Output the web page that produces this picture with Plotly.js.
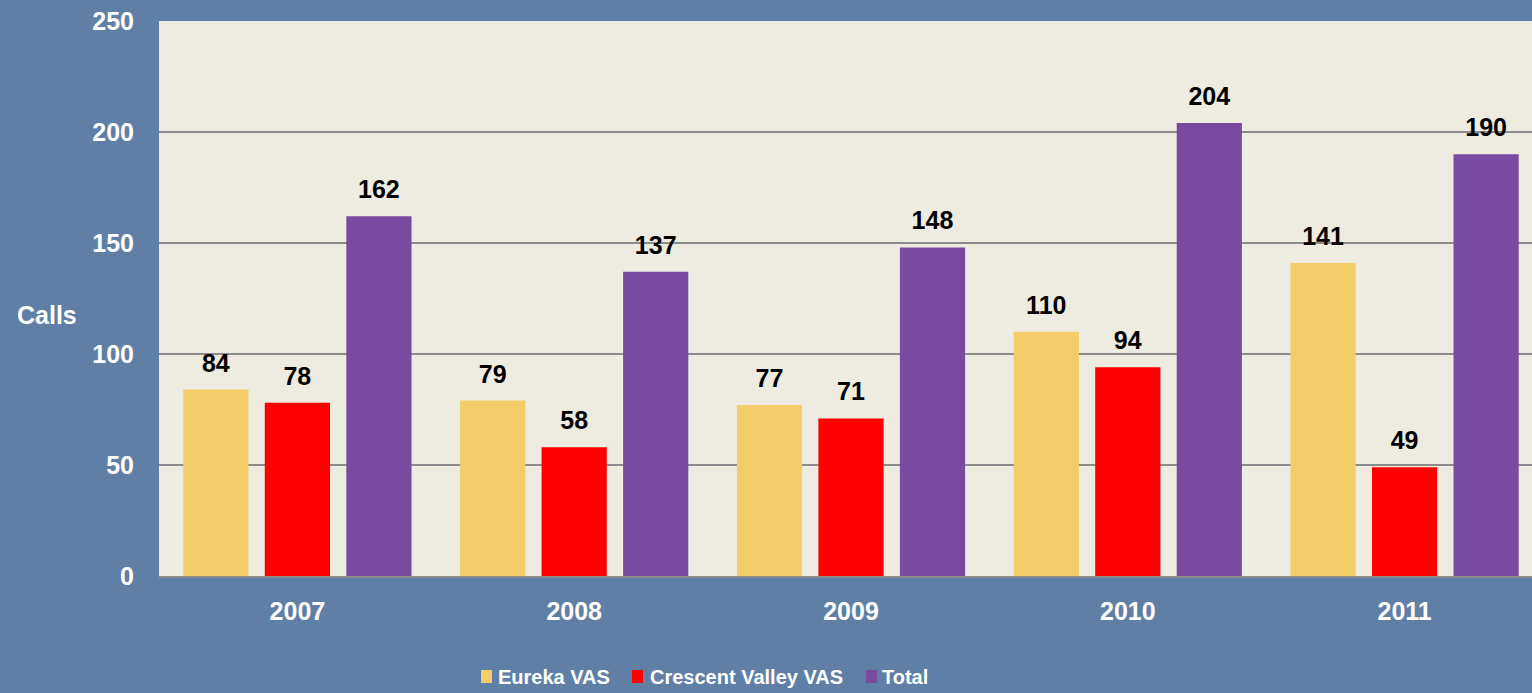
<!DOCTYPE html>
<html>
<head>
<meta charset="utf-8">
<script src="https://cdn.plot.ly/plotly-3.0.1.min.js"></script>
<style>html,body{margin:0;padding:0;background:#5F7FA6;overflow:hidden;}#wrap{width:1532px;height:693px;overflow:hidden;}#chart{width:1543px;height:693px;}</style>
</head>
<body>
<div id="wrap"><div id="chart"></div></div>
<script>
const years = ['2007', '2008', '2009', '2010', '2011'];
const eureka = [84, 79, 77, 110, 141];
const crescent = [78, 58, 71, 94, 49];
const total = [162, 137, 148, 204, 190];
const seriesNames = ['Eureka VAS', 'Crescent Valley VAS', 'Total'];
const yTicks = [0, 50, 100, 150, 200, 250];

const colors = ['#F2CD69', '#FF0000', '#784BA0'];
const values = [eureka, crescent, total];
const font = 'Liberation Sans, Arial, sans-serif';

// plot area slightly wider than the window: the right edge is clipped as in the original
const W = 1543, H = 693;
const M = {l: 159, r: 0, t: 21, b: 117};
const PW = W - M.l - M.r, PH = H - M.t - M.b;
const px2x = px => (px - M.l) / PW;
const px2y = py => (H - M.b - py) / PH;

const traces = values.map((v, i) => ({
  type: 'bar',
  name: seriesNames[i],
  x: years,
  y: v,
  marker: {color: colors[i]},
  texttemplate: '%{y}',
  textposition: 'outside',
  textfont: {family: font, size: 25, color: '#000000', weight: 'bold'},
  cliponaxis: false,
  showlegend: false,
  hoverinfo: 'skip'
}));

// custom legend
const legSquareX = [481, 632, 866];
const legTextX = [496, 648, 880];
const shapes = seriesNames.map((n, i) => ({
  type: 'rect', xref: 'paper', yref: 'paper',
  x0: px2x(legSquareX[i]), x1: px2x(legSquareX[i] + 11),
  y0: px2y(683), y1: px2y(670),
  fillcolor: colors[i], line: {width: 0}
}));
const annotations = seriesNames.map((n, i) => ({
  text: '<b>' + n + '</b>', xref: 'paper', yref: 'paper',
  x: px2x(legTextX[i]), y: px2y(677), xanchor: 'left', yanchor: 'middle',
  showarrow: false, font: {family: font, size: 20, color: '#FFFFFF'}
}));
annotations.push({
  text: '<b>Calls</b>', xref: 'paper', yref: 'paper',
  x: px2x(47), y: px2y(315), xanchor: 'center', yanchor: 'middle',
  showarrow: false, font: {family: font, size: 25, color: '#FFFFFF'}
});

const layout = {
  width: W, height: H,
  margin: M,
  paper_bgcolor: '#5F7FA6',
  plot_bgcolor: '#EEEBE0',
  barmode: 'group',
  bargap: 0.1165,
  bargroupgap: 0.2,
  font: {family: font, color: '#FFFFFF'},
  xaxis: {
    type: 'category',
    showgrid: false,
    showline: true, linecolor: '#8C8C8C', linewidth: 2,
    ticks: 'outside', ticklen: 12, tickcolor: 'rgba(0,0,0,0)',
    tickfont: {family: font, size: 25, color: '#FFFFFF', weight: 'bold'}
  },
  yaxis: {
    range: [0, 250],
    tickvals: yTicks,
    showgrid: true, gridcolor: '#8C8C8C', gridwidth: 2,
    zeroline: false, showline: false,
    ticks: 'outside', ticklen: 19, tickcolor: 'rgba(0,0,0,0)',
    tickfont: {family: font, size: 25, color: '#FFFFFF', weight: 'bold'}
  },
  shapes: shapes,
  annotations: annotations,
  showlegend: false
};

Plotly.newPlot('chart', traces, layout, {displayModeBar: false, staticPlot: true}).then(() => {
  document.querySelectorAll('.bartext').forEach(t => {
    const tr = t.getAttribute('transform') || '';
    t.setAttribute('transform', 'translate(0,-10) ' + tr);
  });
});
</script>
</body>
</html>
